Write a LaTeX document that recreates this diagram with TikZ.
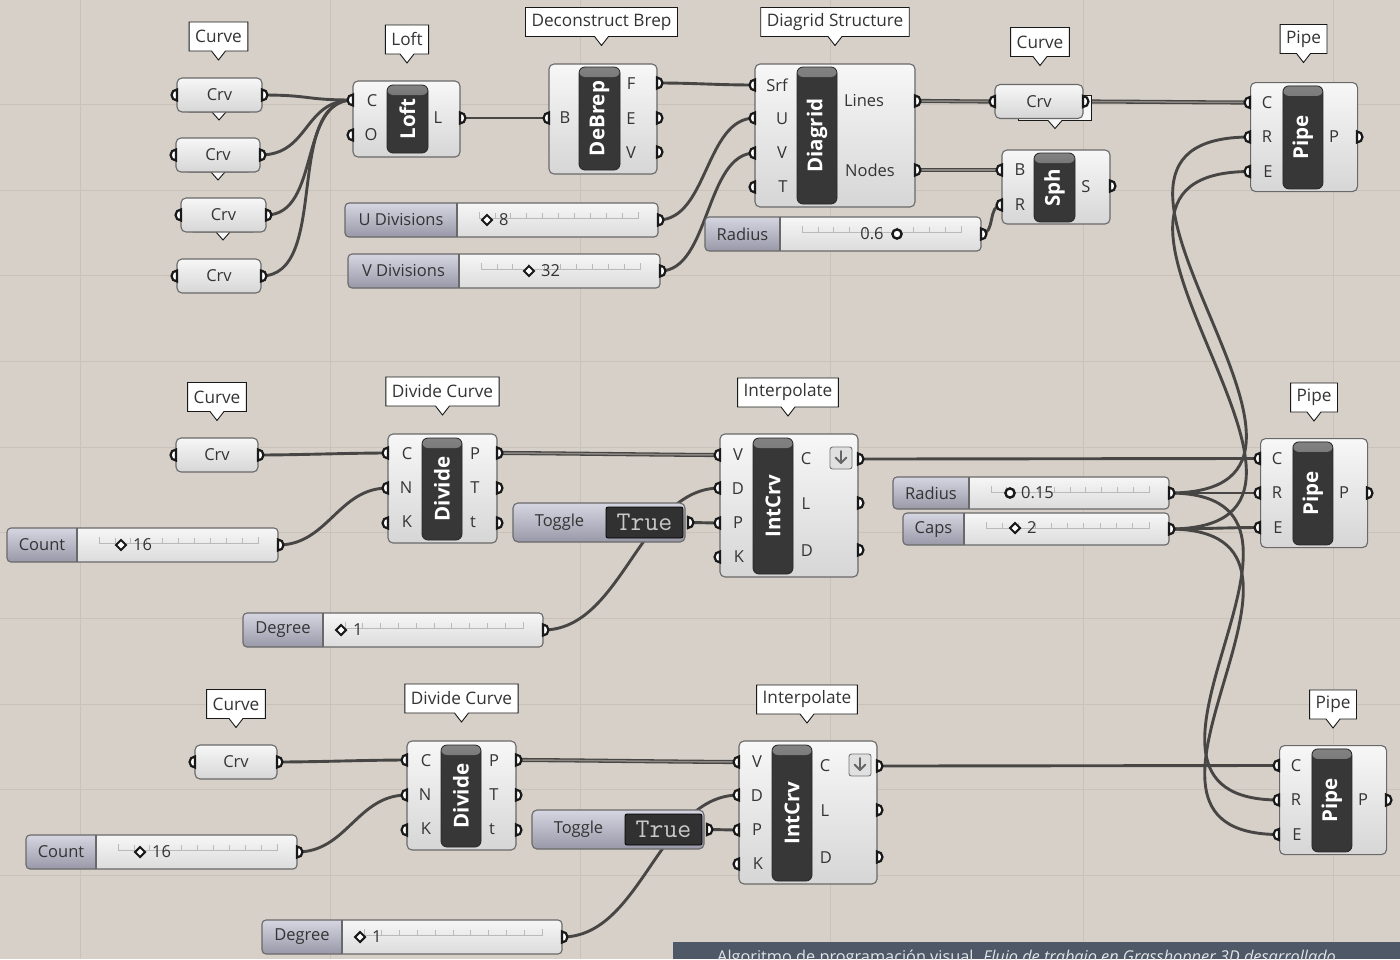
\documentclass[tikz,border=0pt]{standalone}
\usepackage{fontspec}
\setmainfont{Open Sans}
\usetikzlibrary{shapes.callouts}
\definecolor{bgc}{RGB}{214,208,201}
\definecolor{gridc}{RGB}{200,194,187}
\definecolor{wirec}{RGB}{72,70,68}
\definecolor{wirein}{RGB}{140,136,132}
\definecolor{bodytop}{RGB}{247,247,247}
\definecolor{bodybot}{RGB}{214,214,214}
\definecolor{bodyline}{RGB}{105,105,105}
\definecolor{barc}{RGB}{55,55,55}
\definecolor{barhi}{RGB}{130,130,130}
\definecolor{labtop}{RGB}{214,214,226}
\definecolor{labbot}{RGB}{152,152,168}
\definecolor{valtop}{RGB}{246,246,246}
\definecolor{valbot}{RGB}{220,220,220}
\definecolor{txtc}{RGB}{52,52,52}
\definecolor{tickc}{RGB}{186,186,186}
\definecolor{truec}{RGB}{200,200,200}
\definecolor{capc}{RGB}{78,88,102}
\definecolor{captxt}{RGB}{225,228,232}
\newcommand{\ghfont}{\fontsize{16.5}{19}\selectfont}
\newcommand{\ghtipfont}{\fontsize{17.2}{19}\selectfont}
\newcommand{\ghbarfont}{\fontsize{20.5}{22}\selectfont\bfseries}
\pgfdeclarelayer{bg}
\pgfdeclarelayer{wires}
\pgfsetlayers{bg,wires,main}
\tikzset{
  body/.style={draw=bodyline, line width=1.1pt, rounded corners=5pt,
    top color=bodytop, bottom color=bodybot, inner sep=0pt, text=txtc, font=\ghfont},
  bar/.style={draw=black!85, line width=0.8pt, fill=barc, rounded corners=6pt, inner sep=0pt,
    text=white, font=\ghbarfont,
    path picture={\shade[top color=barhi,bottom color=barc]
      (path picture bounding box.north west) rectangle ([yshift=-10pt]path picture bounding box.north east);}},
  tip/.style={rectangle callout, draw=black!90, line width=0.9pt, fill=white, text=txtc,
    font=\ghtipfont, minimum height=29pt, inner xsep=6pt, inner ysep=0pt,
    callout relative pointer={(0pt,-9pt)}, callout pointer width=14pt},
  hidtip/.style={tip, fill=bodytop, minimum width=60pt, minimum height=25pt,
    callout relative pointer={(0pt,-8pt)}},
  plabel/.style={text=txtc, font=\ghfont, inner sep=0pt},
  port/.style={fill=white, draw=black!90, line width=2.2pt},
  wire/.style={draw=wirec, line width=2.9pt},
  dwire/.style={draw=wirec, line width=1.3pt, double=wirein, double distance=1.5pt},
  gridline/.style={draw=gridc, line width=1pt},
  sline/.style={draw=bodyline, line width=1.1pt},
  ticks/.style={draw=tickc, line width=0.7pt},
  truebox/.style={fill=barc!90!black, draw=black, line width=0.8pt, rounded corners=2pt, inner sep=0pt,
    text=truec, font=\ttfamily\fontsize{27}{28}\selectfont},
  icon/.style={draw=black!55, line width=0.9pt, fill=black!12, rounded corners=2.5pt,
    minimum size=22pt, inner sep=0pt},
  arrowc/.style={draw=black!60, line width=2pt, line cap=round, line join=round},
}
% ports
\newcommand{\ghin}[3]{\coordinate (#1) at (#2,#3);
  \filldraw[port] (#2,#3) ++(0pt,5.5pt) arc[start angle=90,end angle=270,radius=5.5pt] -- cycle;}
\newcommand{\ghout}[3]{\coordinate (#1) at (#2,#3);
  \filldraw[port] (#2,#3) ++(0pt,5.5pt) arc[start angle=90,end angle=-90,radius=5.5pt] -- cycle;}
\newcommand{\ghlab}[4]{\node[plabel] (#1) at (#2,#3) {#4};}
% parameter (Crv)
\newcommand{\ghparam}[5]{%
  \node[body, minimum width=#4, minimum height=34] (#1) at (#2,#3) {#5};
  \ghin{#1i}{{#2-#4/2}}{#3}
  \ghout{#1o}{{#2+#4/2}}{#3}}
% slider
\newcommand{\ghslider}[7]{%
  \begin{scope}
    \clip[rounded corners=4pt] (#2,#3) rectangle (#4,#5);
    \shade[top color=valtop,bottom color=valbot] (#2,#3) rectangle (#4,#5);
    \shade[top color=labtop,bottom color=labbot] (#2,#3) rectangle (#6,#5);
  \end{scope}
  \draw[ticks] ({#6+22},{#3+9}) -- ({#6+22},{#3+15}) -- ({#4-20},{#3+15}) -- ({#4-20},{#3+9});
  \foreach \k in {1,...,9} {\draw[ticks] ({#6+22+\k*(#4-#6-42)/10},{#3+15}) -- ++(0pt,5pt);}
  \draw[sline] (#6,#3) -- (#6,#5);
  \draw[sline, rounded corners=4pt] (#2,#3) rectangle (#4,#5);
  \node[plabel] (#1) at ({(#2+#6)/2},{(#3+#5)/2}) {#7};
  \ghout{#1o}{#4}{{(#3+#5)/2}}}
\newcommand{\ghdiamond}[4]{%
  \filldraw[line width=2.1pt, draw=black!90, fill=white] (#2,#3) ++(-5pt,0pt) -- ++(5pt,5pt) -- ++(5pt,-5pt) -- ++(-5pt,-5pt) -- cycle;
  \node[plabel, anchor=west] (#1) at ({#2+12},#3) {#4};}
\newcommand{\ghcirc}[3]{\coordinate (#1) at (#2,#3);
  \filldraw[line width=2.4pt, draw=black!90, fill=white] (#2,#3) circle[radius=4.6pt];}
% toggle
\newcommand{\ghtoggle}[6]{%
  \draw[sline, rounded corners=5pt, top color=labtop, bottom color=labbot] (#2,#3) rectangle (#4,#5);
  \node[plabel] (#1) at ({(#2+#6)/2},{(#3+#5)/2}) {Toggle};
  \node[truebox, minimum width={#4-#6-2}, minimum height={#5-#3-8}] (#1v) at ({(#6+#4-2)/2},{(#3+#5)/2}) {True};
  \ghout{#1o}{{#4+3}}{{(#3+#5)/2}}}
% pipe
\newcommand{\ghpipe}[3]{%
  \node[body, minimum width=107, minimum height=109, anchor=north west] (#1) at (#2,#3) {};
  \node[bar, minimum width=40, minimum height=103, anchor=north west] (#1bar) at ({#2+32.5},{#3+3.5}) {\rotatebox{90}{Pipe}};
  \ghlab{#1lC}{{#2+17}}{{#3+20.5}}{C}
  \ghlab{#1lR}{{#2+17}}{{#3+55}}{R}
  \ghlab{#1lE}{{#2+18}}{{#3+89.5}}{E}
  \ghlab{#1lP}{{#2+84}}{{#3+55}}{P}
  \ghin{#1C}{#2}{{#3+20.5}}
  \ghin{#1R}{#2}{{#3+55}}
  \ghin{#1E}{#2}{{#3+89.5}}
  \ghout{#1P}{{#2+107}}{{#3+55}}}
% lower rows
\newcommand{\ghrow}[2]{%
\begin{scope}[shift={(#2)}]
  \node[tip] (#1tcrv) at (217,397) {Curve};
  \node[tip] (#1tdiv) at (442.5,391.5) {Divide Curve};
  \node[tip] (#1tint) at (788,392.5) {Interpolate};
  \node[tip] (#1tpipe) at (1314,397.5) {Pipe};
  \ghparam{#1crv}{217}{455}{82}{Crv}
  \ghslider{#1count}{7}{528}{278}{562}{77}{Count}
  \ghdiamond{#1countv}{121}{545}{16}
  \ghslider{#1deg}{243}{613}{543}{647}{323}{Degree}
  \ghdiamond{#1degv}{341}{630}{1}
  \ghtoggle{#1tog}{513}{503}{685}{542}{606}
  \node[body, minimum width=109, minimum height=109] (#1div) at (442.5,488.5) {};
  \node[bar, minimum width=40, minimum height=102] (#1divbar) at (442,489) {\rotatebox{90}{Divide}};
  \ghlab{#1divlC}{407}{454}{C}\ghlab{#1divlN}{406}{488}{N}\ghlab{#1divlK}{407}{522}{K}
  \ghlab{#1divlP}{475}{454}{P}\ghlab{#1divlT}{475}{488}{T}\ghlab{#1divlt}{473}{522}{t}
  \ghin{#1divC}{388}{453}\ghin{#1divN}{388}{488}\ghin{#1divK}{388}{523}
  \ghout{#1divP}{497}{453}\ghout{#1divT}{497}{488}\ghout{#1divt}{497}{523}
  \node[body, minimum width=138, minimum height=143] (#1int) at (789,505.5) {};
  \node[bar, minimum width=40, minimum height=136] (#1intbar) at (773,506) {\rotatebox{90}{IntCrv}};
  \ghlab{#1intlV}{738}{455}{V}\ghlab{#1intlD}{738}{489}{D}\ghlab{#1intlP}{738}{523}{P}\ghlab{#1intlK}{739}{557}{K}
  \ghlab{#1intlC}{806}{459}{C}\ghlab{#1intlL}{806}{504}{L}\ghlab{#1intlDo}{807}{551}{D}
  \node[icon] (#1icon) at (841,458) {};
  \draw[arrowc] (841,451) -- (841,463);
  \draw[arrowc] (835.5,457.5) -- (841,463) -- (846.5,457.5);
  \ghin{#1intV}{720}{455}\ghin{#1intD}{720}{488}\ghin{#1intP}{720}{523}\ghin{#1intK}{720}{557}
  \ghout{#1intC}{858}{459}\ghout{#1intL}{858}{503}\ghout{#1intDo}{858}{550}
  \ghpipe{#1pipe}{1260}{438}
\end{scope}}
\newcommand{\ghwire}[3]{\draw[wire] (#1) .. controls +(#3pt,0pt) and +(-#3pt,0pt) .. (#2);}
\newcommand{\ghdwire}[3]{\draw[dwire] (#1) .. controls +(#3pt,0pt) and +(-#3pt,0pt) .. (#2);}
\newcommand{\ghrowwires}[1]{%
  \ghwire{#1crvo}{#1divC}{40}
  \ghwire{#1counto}{#1divN}{50}
  \ghdwire{#1divP}{#1intV}{40}
  \ghwire{#1togo}{#1intP}{12}
  \ghwire{#1dego}{#1intD}{80}
  \ghwire{#1intC}{#1pipeC}{40}}

\begin{document}
\begin{tikzpicture}[x=1pt,y=-1pt]
\useasboundingbox (0,0) rectangle (1400,959);
\begin{pgfonlayer}{bg}
  \fill[bgc] (0,0) rectangle (1400,959);
  \foreach \gx in {80,330,580,830,1083,1333} {\draw[gridline] (\gx,0) -- (\gx,959);}
  \foreach \gy in {104,190,275,361,447,532,618,704,789,875} {\draw[gridline] (0,\gy) -- (1400,\gy);}
\end{pgfonlayer}

% ---------- top row ----------
\node[tip] (tcurveA) at (218.5,36.5) {Curve};
\node[tip] (tloft) at (407,39.5) {Loft};
\node[tip] (tdebrep) at (601.5,22) {Deconstruct Brep};
\node[tip] (tdiagrid) at (835,22) {Diagrid Structure};
\node[tip] (tcurveB) at (1040,42) {Curve};
\node[tip] (tpipeA) at (1303.5,39) {Pipe};

\node[hidtip] (hidA) at (219,99.5) {};
\node[hidtip] (hidB) at (218,159.5) {};
\node[hidtip] (hidC) at (223,219.5) {};
\node[hidtip, minimum width=73pt] (hidD) at (1055,108) {};

\ghparam{crvA}{219.5}{95}{85}{Crv}
\ghparam{crvB}{218}{155}{84}{Crv}
\ghparam{crvC}{223.5}{215}{85}{Crv}
\ghparam{crvD}{219}{276}{84}{Crv}
\ghparam{crvE}{1039}{101.5}{88}{Crv}

% Loft
\node[body, minimum width=107, minimum height=76] (loft) at (406.5,119) {};
\node[bar, minimum width=41, minimum height=68] (loftbar) at (407.5,119) {\rotatebox{90}{Loft}};
\ghlab{loftlC}{372}{101}{C}\ghlab{loftlO}{371}{135}{O}\ghlab{loftlL}{438}{118}{L}
\ghin{loftC}{353}{100}\ghin{loftO}{353}{135}\ghout{loftL}{460}{118}

% DeBrep
\node[body, minimum width=108, minimum height=110] (debrep) at (603,119) {};
\node[bar, minimum width=41, minimum height=103] (debrepbar) at (599.5,118.5) {\rotatebox{90}{DeBrep}};
\ghlab{deblB}{565}{118}{B}\ghlab{deblF}{631}{84}{F}\ghlab{deblE}{631}{119}{E}\ghlab{deblV}{631}{153}{V}
\ghin{debB}{549}{118}\ghout{debF}{657}{83}\ghout{debE}{657}{118}\ghout{debV}{657}{152}

% Diagrid
\node[body, minimum width=160, minimum height=143] (diagrid) at (835,135.5) {};
\node[bar, minimum width=40, minimum height=137] (diagridbar) at (817,135.5) {\rotatebox{90}{Diagrid}};
\ghlab{dialS}{777}{85}{Srf}\ghlab{dialU}{782}{119}{U}\ghlab{dialV}{782}{153}{V}\ghlab{dialT}{783}{187}{T}
\ghlab{dialL}{864}{101}{Lines}\ghlab{dialN}{870}{170}{Nodes}
\ghin{diaSrf}{755}{85}\ghin{diaU}{755}{118}\ghin{diaV}{755}{153}\ghin{diaT}{755}{187}
\ghout{diaLines}{915}{101}\ghout{diaNodes}{915}{170}

% Sph
\node[body, minimum width=108, minimum height=74] (sph) at (1056,187) {};
\node[bar, minimum width=41, minimum height=69] (sphbar) at (1054.5,187.5) {\rotatebox{90}{Sph}};
\ghlab{sphlB}{1020}{170}{B}\ghlab{sphlR}{1020}{205}{R}\ghlab{sphlS}{1086}{187}{S}
\ghin{sphB}{1002}{170}\ghin{sphR}{1002}{205}\ghout{sphS}{1110}{186}

% Pipe top
\ghpipe{pipeA}{1250}{82}

% sliders top
\ghslider{udiv}{345}{203}{658}{237}{457}{U Divisions}
\ghdiamond{udivv}{487}{220}{8}
\ghslider{vdiv}{348}{254}{660}{288}{459}{V Divisions}
\ghdiamond{vdivv}{529}{271}{32}
\ghslider{radA}{705}{217}{981}{251}{780}{Radius}
\node[plabel] (radAv) at (872,234) {0.6};
\ghcirc{radAc}{897}{234}

% middle sliders for pipes
\ghslider{radB}{893}{477}{1169}{509}{969}{Radius}
\ghcirc{radBc}{1010}{493}
\node[plabel, anchor=west] (radBv) at (1021,493) {0.15};
\ghslider{caps}{903}{513}{1169}{545}{964}{Caps}
\ghdiamond{capsv}{1015}{528}{2}

% ---------- lower rows ----------
\ghrow{m}{0,0}
\ghrow{b}{19,307}

% ---------- wires ----------
\begin{pgfonlayer}{wires}
  \ghwire{crvAo}{loftC}{50}
  \ghwire{crvBo}{loftC}{50}
  \ghwire{crvCo}{loftC}{55}
  \ghwire{crvDo}{loftC}{70}
  \ghwire{loftL}{debB}{30}
  \ghwire{debF}{diaSrf}{40}
  \ghwire{udivo}{diaU}{50}
  \ghwire{vdivo}{diaV}{50}
  \ghdwire{diaLines}{crvEi}{30}
  \ghdwire{diaNodes}{sphB}{30}
  \ghwire{radAo}{sphR}{15}
  \ghdwire{crvEo}{pipeAC}{40}
  \ghwire{radBo}{pipeAR}{230}
  \ghwire{capso}{pipeAE}{230}
  \ghwire{radBo}{mpipeR}{30}
  \ghwire{capso}{mpipeE}{30}
  \ghwire{radBo}{bpipeR}{200}
  \ghwire{capso}{bpipeE}{200}
  \ghrowwires{m}
  \ghrowwires{b}
\end{pgfonlayer}

% caption bar
\fill[capc] (673,942) rectangle (1400,959);
\node[anchor=base west, inner sep=0pt, text=captxt, font=\fontsize{16.3}{18}\selectfont] (caption) at (717,962)
  {Algoritmo de programación visual. \textit{Flujo de trabajo en Grasshopper 3D desarrollado}};
\end{tikzpicture}
\end{document}
